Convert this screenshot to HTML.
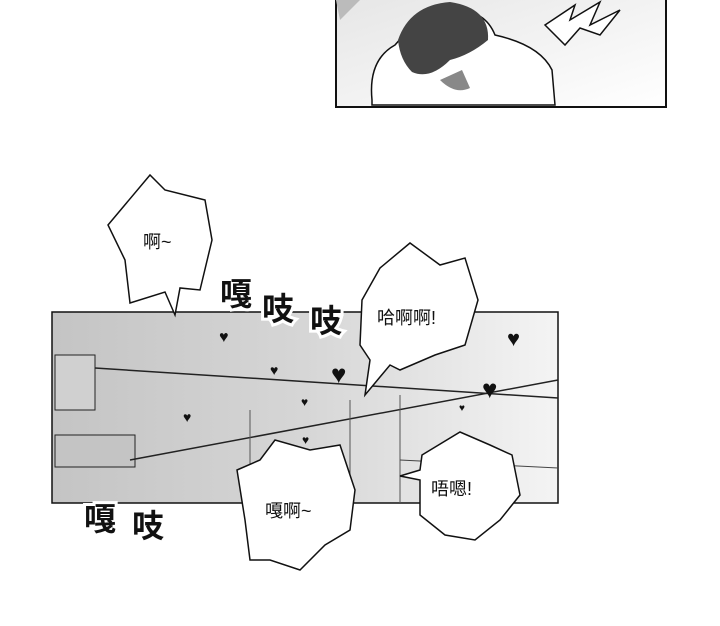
<!DOCTYPE html>
<html><head><meta charset="utf-8"><style>
html,body{margin:0;padding:0;background:#fff;}
svg{display:block}
text{font-family:"Liberation Sans","Noto Sans CJK SC",sans-serif;}
</style></head><body>
<svg width="720" height="626" viewBox="0 0 720 626" xmlns="http://www.w3.org/2000/svg">
<defs>
<linearGradient id="g1" x1="0" y1="0" x2="1" y2="0">
<stop offset="0" stop-color="#c4c4c4"/><stop offset="0.5" stop-color="#d6d6d6"/><stop offset="1" stop-color="#f4f4f4"/>
</linearGradient>
<linearGradient id="g2" x1="0" y1="0" x2="1" y2="1">
<stop offset="0" stop-color="#e6e6e6"/><stop offset="1" stop-color="#ffffff"/>
</linearGradient>
</defs>
<rect x="336" y="-2" width="330" height="109" fill="url(#g2)" stroke="#111" stroke-width="2"/>
<path d="M340 20 L360 0 L336 0Z" fill="#bbb"/>
<path d="M372 100 Q368 60 395 45 Q415 20 455 10 Q485 10 495 35 Q540 45 552 70 L555 105 L372 105Z" fill="#fff" stroke="#111" stroke-width="1.5"/>
<path d="M398 40 Q410 5 450 2 Q490 8 488 40 Q470 55 450 60 Q430 80 412 72 Q400 60 398 40Z" fill="#444"/>
<path d="M440 80 Q455 95 470 88 L462 70Z" fill="#888"/>
<path d="M545 25 L575 5 L570 20 L600 2 L590 25 L620 10 L600 35 L580 28 L565 45Z" fill="#fff" stroke="#111" stroke-width="1.5"/>
<rect x="52" y="312" width="506" height="191" fill="url(#g1)" stroke="#111" stroke-width="1.5"/>
<rect x="55" y="355" width="40" height="55" fill="#d0d0d0" stroke="#222"/>
<rect x="55" y="435" width="80" height="32" fill="#c4c4c4" stroke="#222"/>
<line x1="95" y1="368" x2="558" y2="398" stroke="#222" stroke-width="1.5"/>
<line x1="130" y1="460" x2="558" y2="380" stroke="#222" stroke-width="1.5"/>
<line x1="250" y1="410" x2="250" y2="503" stroke="#555"/>
<line x1="350" y1="400" x2="350" y2="503" stroke="#555"/>
<line x1="400" y1="395" x2="400" y2="503" stroke="#555"/>
<line x1="400" y1="460" x2="558" y2="468" stroke="#444"/>
<g fill="#111" font-size="16">
<text x="219" y="342">♥</text><text x="270" y="375" font-size="14">♥</text>
<text x="331" y="383" font-size="26">♥</text><text x="183" y="422" font-size="14">♥</text>
<text x="301" y="406" font-size="12">♥</text><text x="302" y="444" font-size="12">♥</text>
<text x="507" y="346" font-size="22">♥</text><text x="482" y="398" font-size="26">♥</text>
<text x="459" y="411" font-size="10">♥</text>
</g>
<g fill="#fff" stroke="#111" stroke-width="1.5">
<path d="M108 225 L150 175 L165 190 L205 200 L212 240 L200 290 L180 288 L175 315 L165 292 L130 303 L125 260Z"/>
<path d="M362 300 L380 268 L410 243 L440 265 L465 258 L478 300 L465 345 L435 355 L400 370 L390 365 L365 395 L370 360 L360 345Z"/>
<path d="M237 470 L260 460 L275 440 L310 450 L340 445 L355 490 L350 530 L325 545 L300 570 L270 560 L250 560 L245 520Z"/>
<path d="M422 455 L460 432 L490 445 L512 455 L520 495 L500 520 L475 540 L445 535 L420 515 L420 480 L400 476 L420 470Z"/>
</g>
<g font-size="18" fill="#111">
<text x="143" y="248">啊~</text>
<text x="377" y="324">哈啊啊!</text>
<text x="265" y="517">嘎啊~</text>
<text x="431" y="495">唔嗯!</text>
</g>
<g font-size="32" font-weight="bold" fill="#111" stroke="#fff" stroke-width="6" paint-order="stroke">
<text x="220" y="305">嘎</text><text x="262" y="320">吱</text><text x="310" y="332">吱</text>
<text x="84" y="530">嘎</text><text x="132" y="537">吱</text>
</g>
</svg>
</body></html>
